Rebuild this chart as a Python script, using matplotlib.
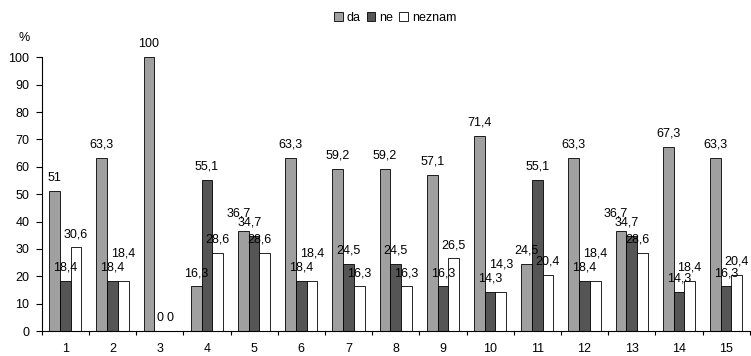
import numpy as np
import matplotlib.pyplot as plt
from matplotlib.ticker import FixedLocator, NullFormatter

plt.rcParams['font.family'] = ['Liberation Sans', 'DejaVu Sans']

categories = [str(i) for i in range(1, 16)]
da = [51, 63.3, 100, 16.3, 36.7, 63.3, 59.2, 59.2, 57.1, 71.4, 24.5, 63.3, 36.7, 67.3, 63.3]
ne = [18.4, 18.4, 0, 55.1, 34.7, 18.4, 24.5, 24.5, 16.3, 14.3, 55.1, 18.4, 34.7, 14.3, 16.3]
neznam = [30.6, 18.4, 0, 28.6, 28.6, 18.4, 16.3, 16.3, 26.5, 14.3, 20.4, 18.4, 28.6, 18.4, 20.4]

series = [("da", da, "#a0a0a0"), ("ne", ne, "#555555"), ("neznam", neznam, "#ffffff")]
fs = 9


def fmt(v):
    return ("%g" % v).replace(".", ",")


fig = plt.figure(figsize=(7.51, 3.56), dpi=100)
ax = fig.add_axes([41.7 / 751, 1 - 331 / 356, 708 / 751, (331 - 57.3) / 356])

x = np.arange(len(categories))
w = 0.226
for i, (name, vals, col) in enumerate(series):
    pos = x + (i - 1) * w
    ax.bar(pos, vals, w, color=col, edgecolor="black", linewidth=0.6, label=name)
    for j, (p, v) in enumerate(zip(pos, vals)):
        dy = 9.5
        dx = 0
        # excel lifts the neznam label when it would sit on the ne label
        if name == "neznam" and v == ne[j] and v > 0:
            dy += 10
        # crowded groups (5, 13): labels slide a bit left/up like in the original
        if abs(da[j] - ne[j]) < 3 and da[j] > 0:
            dx = -3.5
            if name == "da":
                dy += 3
        ax.annotate(fmt(v), (p, v), xytext=(dx, dy), textcoords="offset points",
                    ha="center", va="center", fontsize=fs)

ax.set_xlim(-0.5, len(categories) - 0.5)
ax.set_ylim(0, 100)
ax.set_yticks(range(0, 101, 10))
ax.set_xticks(x)
ax.set_xticklabels(categories)
ax.xaxis.set_minor_locator(FixedLocator(np.arange(-0.5, len(categories), 1)))
ax.xaxis.set_minor_formatter(NullFormatter())
ax.tick_params(axis="x", which="major", length=0, pad=9, labelsize=fs)
ax.tick_params(axis="x", which="minor", length=3, width=0.8, direction="out")
ax.tick_params(axis="y", length=4, width=0.8, labelsize=fs, pad=5)
for s in ["top", "right"]:
    ax.spines[s].set_visible(False)
ax.spines["left"].set_linewidth(0.8)
ax.spines["bottom"].set_linewidth(0.8)

fig.text(24 / 751, 1 - 38 / 356, "%", ha="center", va="center", fontsize=fs)

fig.legend(loc="center", bbox_to_anchor=(395 / 751, 1 - 18 / 356), ncol=3, frameon=False,
           fontsize=fs, handlelength=0.7, handleheight=0.7, handletextpad=0.3,
           columnspacing=0.5, borderpad=0)

fig.savefig("out.png", dpi=100)
